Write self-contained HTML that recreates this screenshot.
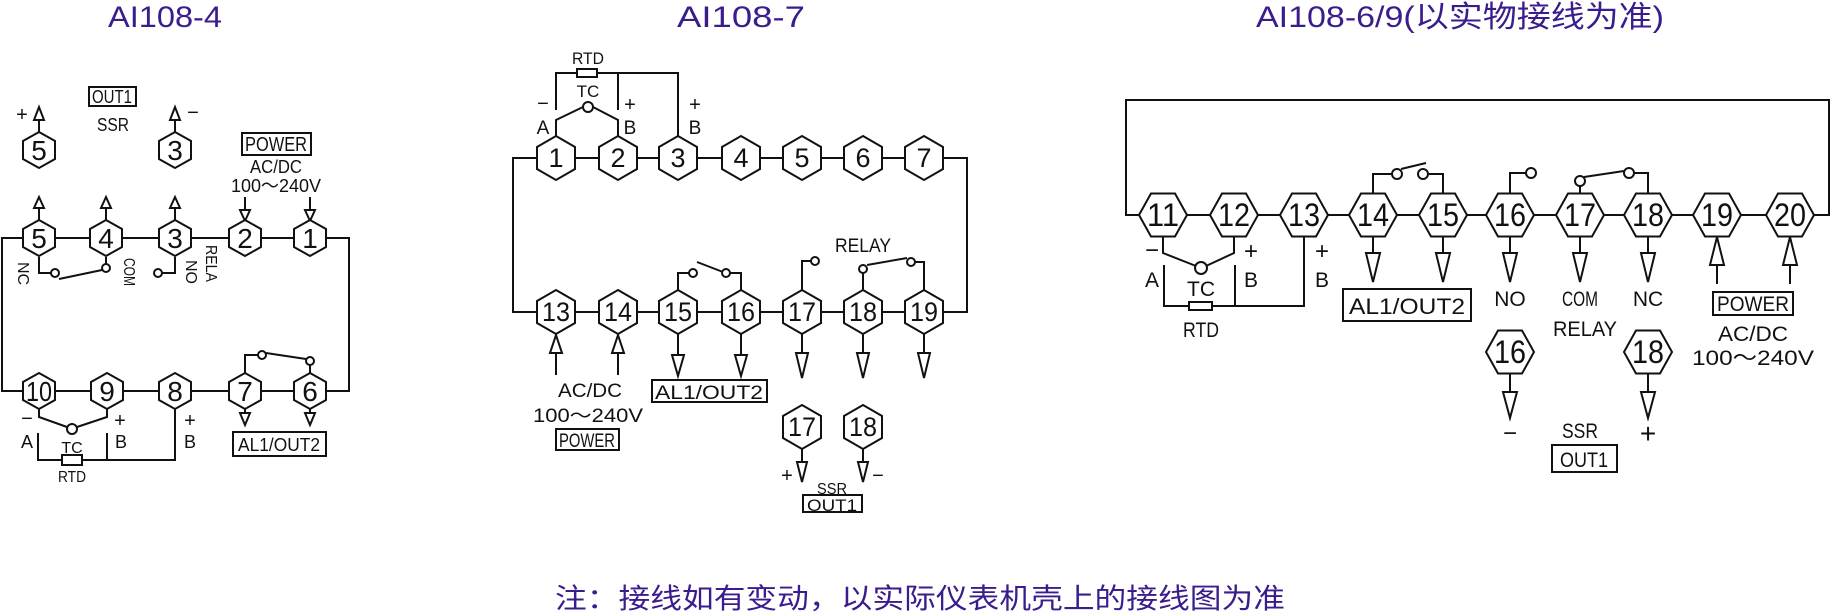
<!DOCTYPE html>
<html><head><meta charset="utf-8"><style>
html,body{margin:0;padding:0;background:#fff;}
svg{display:block;}
text{font-family:"Liberation Sans Narrow","Liberation Sans","Noto Sans CJK SC",sans-serif;fill:#111;}
.t{fill:#3b1c8c;font-family:"Liberation Sans","Noto Sans CJK SC",sans-serif;}
</style></head><body>
<svg width="1831" height="616" viewBox="0 0 1831 616" xmlns="http://www.w3.org/2000/svg">
<defs>
<polygon id="h1" points="0,-18 16,-9 16,9 0,18 -16,9 -16,-9" fill="#fff" stroke="#111" stroke-width="2"/>
<polygon id="h2" points="0,-22 19,-11 19,11 0,22 -19,11 -19,-11" fill="#fff" stroke="#111" stroke-width="2"/>
<polygon id="h3" points="-24,0 -12,-21.5 12,-21.5 24,0 12,21.5 -12,21.5" fill="#fff" stroke="#111" stroke-width="2"/>
</defs>

<text class="t" x="165" y="27" font-size="30" text-anchor="middle" textLength="114" lengthAdjust="spacingAndGlyphs">AI108-4</text>
<text class="t" x="741" y="27" font-size="30" text-anchor="middle" textLength="128" lengthAdjust="spacingAndGlyphs">AI108-7</text>
<text class="t" x="1460" y="27" font-size="30" text-anchor="middle" textLength="408" lengthAdjust="spacingAndGlyphs">AI108-6/9(以实物接线为准)</text>
<text class="t" x="920" y="608" font-size="28" text-anchor="middle" textLength="730" lengthAdjust="spacingAndGlyphs">注：接线如有变动，以实际仪表机壳上的接线图为准</text>

<g fill="none" stroke="#111" stroke-width="2">
<rect x="2" y="238" width="347" height="153"/>
<path d="M39,221V208M106,221V208M175,221V208"/>
<path d="M39,134V120M175,134V120"/>
<path d="M245,197V210M310,197V210"/>
<path d="M39,257V273H51M106,257V264M175,257V273H162M59,279L102,270"/>
<path d="M39,409V417L67,427M77,427L107,417V409M38,433V460H175V409M107,433V460"/>
<path d="M245,373V355H258M266,353L306,359M310,365V373"/>
<path d="M245,409V413M310,409V413"/>
<rect x="513" y="158" width="454" height="154"/>
<path d="M556,110V73H678V136M618,73V110M556,136V120L583,107M593,107L618,120V136"/>
<path d="M556,353V375M618,353V375"/>
<path d="M678,334V355M741,334V355M802,334V353M863,334V353M924,334V353"/>
<path d="M678,290V273H689M697,262L723,272M730,273H741V290"/>
<path d="M802,290V261H811"/>
<path d="M863,290V273M867,265L907,258M915,262H924V290"/>
<path d="M802,449V462M863,449V462"/>
<path d="M1139,215H1126V100H1829V215H1814"/>
<line x1="1139" y1="215" x2="1814" y2="215"/>
<path d="M1163,236V253L1196,266M1206,266L1234,253V236M1164,265V306H1304V236M1235,265V306"/>
<path d="M1373,236V253M1443,236V253M1510,236V253M1580,236V253M1648,236V253"/>
<path d="M1717,265V284M1790,265V284"/>
<path d="M1373,193V174H1392M1401,169L1426,163M1428,174H1443V193"/>
<path d="M1510,193V173H1526"/>
<path d="M1580,193V186M1584,177L1624,171M1634,173H1648V193"/>
<path d="M1510,374V392M1648,374V392"/>
</g>

<g fill="#fff" stroke="#111" stroke-width="2">
<circle cx="55" cy="273" r="4"/><circle cx="106" cy="268" r="4"/><circle cx="158" cy="273" r="4"/>
<circle cx="72" cy="429" r="5"/><circle cx="262" cy="355" r="4"/><circle cx="310" cy="361" r="4"/>
<rect x="62" y="455" width="20" height="10"/>
<circle cx="588" cy="107" r="5"/><rect x="577" y="69" width="20" height="8"/>
<circle cx="693" cy="273" r="4"/><circle cx="726" cy="273" r="4"/><circle cx="815" cy="261" r="4"/>
<circle cx="863" cy="269" r="4"/><circle cx="911" cy="262" r="4"/>
<circle cx="1201" cy="268" r="6"/><rect x="1189" y="302" width="23" height="8"/>
<circle cx="1397" cy="174" r="5"/><circle cx="1423" cy="174" r="5"/><circle cx="1531" cy="173" r="5"/>
<circle cx="1580" cy="181" r="5"/><circle cx="1629" cy="173" r="5"/>
<polygon points="34,208 44,208 39,197"/><polygon points="101,208 111,208 106,197"/><polygon points="170,208 180,208 175,197"/>
<polygon points="34,120 44,120 39,107"/><polygon points="170,120 180,120 175,107"/>
<polygon points="240,210 250,210 245,221"/><polygon points="305,210 315,210 310,221"/>
<polygon points="240,413 250,413 245,425"/><polygon points="305,413 315,413 310,425"/>
<polygon points="550,353 562,353 556,335"/><polygon points="612,353 624,353 618,335"/>
<polygon points="672,355 684,355 678,376"/><polygon points="735,355 747,355 741,376"/>
<polygon points="796,353 808,353 802,378"/><polygon points="857,353 869,353 863,378"/><polygon points="918,353 930,353 924,378"/>
<polygon points="797,462 807,462 802,482"/><polygon points="858,462 868,462 863,482"/>
<polygon points="1366,253 1380,253 1373,282"/><polygon points="1436,253 1450,253 1443,282"/>
<polygon points="1503,253 1517,253 1510,282"/><polygon points="1573,253 1587,253 1580,282"/><polygon points="1641,253 1655,253 1648,282"/>
<polygon points="1710,265 1724,265 1717,237"/><polygon points="1783,265 1797,265 1790,237"/>
<polygon points="1503,392 1517,392 1510,418"/><polygon points="1641,392 1655,392 1648,418"/>
<rect x="89" y="87" width="47" height="19"/>
<rect x="242" y="133" width="69" height="22"/>
<rect x="233" y="432" width="93" height="24"/>
<rect x="556" y="429" width="63" height="21"/>
<rect x="652" y="380" width="115" height="22"/>
<rect x="803" y="495" width="59" height="17"/>
<rect x="1343" y="289" width="128" height="32"/>
<rect x="1713" y="292" width="80" height="23"/>
<rect x="1552" y="445" width="65" height="27"/>
</g>

<g font-size="28" text-anchor="middle">
<use href="#h1" x="39" y="150"/><text x="39" y="160">5</text>
<use href="#h1" x="175" y="150"/><text x="175" y="160">3</text>
<use href="#h1" x="39" y="238"/><text x="39" y="248">5</text>
<use href="#h1" x="106" y="238"/><text x="106" y="248">4</text>
<use href="#h1" x="175" y="238"/><text x="175" y="248">3</text>
<use href="#h1" x="245" y="238"/><text x="245" y="248">2</text>
<use href="#h1" x="310" y="238"/><text x="310" y="248">1</text>
<use href="#h1" x="39" y="391"/><text x="39" y="401" textLength="26" lengthAdjust="spacingAndGlyphs">10</text>
<use href="#h1" x="107" y="391"/><text x="107" y="401">9</text>
<use href="#h1" x="175" y="391"/><text x="175" y="401">8</text>
<use href="#h1" x="245" y="391"/><text x="245" y="401">7</text>
<use href="#h1" x="310" y="391"/><text x="310" y="401">6</text>
</g>
<g font-size="27" text-anchor="middle">
<use href="#h2" x="556" y="158"/><text x="556" y="167">1</text>
<use href="#h2" x="618" y="158"/><text x="618" y="167">2</text>
<use href="#h2" x="678" y="158"/><text x="678" y="167">3</text>
<use href="#h2" x="741" y="158"/><text x="741" y="167">4</text>
<use href="#h2" x="802" y="158"/><text x="802" y="167">5</text>
<use href="#h2" x="863" y="158"/><text x="863" y="167">6</text>
<use href="#h2" x="924" y="158"/><text x="924" y="167">7</text>
<use href="#h2" x="556" y="312"/><text x="556" y="321" textLength="28" lengthAdjust="spacingAndGlyphs">13</text>
<use href="#h2" x="618" y="312"/><text x="618" y="321" textLength="28" lengthAdjust="spacingAndGlyphs">14</text>
<use href="#h2" x="678" y="312"/><text x="678" y="321" textLength="28" lengthAdjust="spacingAndGlyphs">15</text>
<use href="#h2" x="741" y="312"/><text x="741" y="321" textLength="28" lengthAdjust="spacingAndGlyphs">16</text>
<use href="#h2" x="802" y="312"/><text x="802" y="321" textLength="28" lengthAdjust="spacingAndGlyphs">17</text>
<use href="#h2" x="863" y="312"/><text x="863" y="321" textLength="28" lengthAdjust="spacingAndGlyphs">18</text>
<use href="#h2" x="924" y="312"/><text x="924" y="321" textLength="28" lengthAdjust="spacingAndGlyphs">19</text>
<use href="#h2" x="802" y="427"/><text x="802" y="436" textLength="28" lengthAdjust="spacingAndGlyphs">17</text>
<use href="#h2" x="863" y="427"/><text x="863" y="436" textLength="28" lengthAdjust="spacingAndGlyphs">18</text>
</g>
<g font-size="32" text-anchor="middle">
<use href="#h3" x="1163" y="215"/><text x="1163" y="226" textLength="32" lengthAdjust="spacingAndGlyphs">11</text>
<use href="#h3" x="1234" y="215"/><text x="1234" y="226" textLength="32" lengthAdjust="spacingAndGlyphs">12</text>
<use href="#h3" x="1304" y="215"/><text x="1304" y="226" textLength="32" lengthAdjust="spacingAndGlyphs">13</text>
<use href="#h3" x="1373" y="215"/><text x="1373" y="226" textLength="32" lengthAdjust="spacingAndGlyphs">14</text>
<use href="#h3" x="1443" y="215"/><text x="1443" y="226" textLength="32" lengthAdjust="spacingAndGlyphs">15</text>
<use href="#h3" x="1510" y="215"/><text x="1510" y="226" textLength="32" lengthAdjust="spacingAndGlyphs">16</text>
<use href="#h3" x="1580" y="215"/><text x="1580" y="226" textLength="32" lengthAdjust="spacingAndGlyphs">17</text>
<use href="#h3" x="1648" y="215"/><text x="1648" y="226" textLength="32" lengthAdjust="spacingAndGlyphs">18</text>
<use href="#h3" x="1717" y="215"/><text x="1717" y="226" textLength="32" lengthAdjust="spacingAndGlyphs">19</text>
<use href="#h3" x="1790" y="215"/><text x="1790" y="226" textLength="32" lengthAdjust="spacingAndGlyphs">20</text>
<use href="#h3" x="1510" y="352"/><text x="1510" y="363" textLength="32" lengthAdjust="spacingAndGlyphs">16</text>
<use href="#h3" x="1648" y="352"/><text x="1648" y="363" textLength="32" lengthAdjust="spacingAndGlyphs">18</text>
</g>

<g font-size="18" text-anchor="middle">
<text x="112" y="103" textLength="40" lengthAdjust="spacingAndGlyphs">OUT1</text>
<text x="113" y="131" textLength="32" lengthAdjust="spacingAndGlyphs">SSR</text>
<text x="22" y="121" font-size="20">+</text>
<text x="193" y="119" font-size="20">−</text>
<text x="276" y="151" font-size="20" textLength="62" lengthAdjust="spacingAndGlyphs">POWER</text>
<text x="276" y="173" textLength="52" lengthAdjust="spacingAndGlyphs">AC/DC</text>
<text x="276" y="192" textLength="90" lengthAdjust="spacingAndGlyphs">100～240V</text>
<text x="27" y="425" font-size="20">−</text>
<text x="27" y="448">A</text>
<text x="72" y="453" font-size="16">TC</text>
<text x="72" y="482" font-size="16" textLength="28" lengthAdjust="spacingAndGlyphs">RTD</text>
<text x="120" y="427" font-size="20">+</text>
<text x="121" y="448">B</text>
<text x="190" y="427" font-size="20">+</text>
<text x="190" y="448">B</text>
<text x="279" y="451" textLength="82" lengthAdjust="spacingAndGlyphs">AL1/OUT2</text>
</g>
<g font-size="16">
<text transform="translate(18,262) rotate(90)">NC</text>
<text transform="translate(124,258) rotate(90)" textLength="28" lengthAdjust="spacingAndGlyphs">COM</text>
<text transform="translate(186,260) rotate(90)">NO</text>
<text transform="translate(206,245) rotate(90)" textLength="37" lengthAdjust="spacingAndGlyphs">RELA</text>
</g>
<g font-size="19" text-anchor="middle">
<text x="588" y="64" font-size="17" textLength="32" lengthAdjust="spacingAndGlyphs">RTD</text>
<text x="588" y="97" font-size="17">TC</text>
<text x="543" y="110" font-size="20">−</text>
<text x="630" y="111" font-size="20">+</text>
<text x="695" y="111" font-size="20">+</text>
<text x="543" y="134">A</text>
<text x="630" y="134">B</text>
<text x="695" y="134">B</text>
<text x="590" y="397" textLength="64" lengthAdjust="spacingAndGlyphs">AC/DC</text>
<text x="588" y="422" textLength="110" lengthAdjust="spacingAndGlyphs">100～240V</text>
<text x="587" y="447" textLength="56" lengthAdjust="spacingAndGlyphs">POWER</text>
<text x="709" y="399" textLength="108" lengthAdjust="spacingAndGlyphs">AL1/OUT2</text>
<text x="863" y="252" textLength="56" lengthAdjust="spacingAndGlyphs">RELAY</text>
<text x="787" y="482" font-size="20">+</text>
<text x="878" y="482" font-size="20">−</text>
<text x="832" y="494" font-size="16" textLength="30" lengthAdjust="spacingAndGlyphs">SSR</text>
<text x="832" y="511" font-size="17" textLength="50" lengthAdjust="spacingAndGlyphs">OUT1</text>
</g>
<g font-size="21" text-anchor="middle">
<text x="1152" y="258" font-size="24">−</text>
<text x="1152" y="287">A</text>
<text x="1201" y="296">TC</text>
<text x="1201" y="337" textLength="36" lengthAdjust="spacingAndGlyphs">RTD</text>
<text x="1251" y="259" font-size="24">+</text>
<text x="1251" y="287">B</text>
<text x="1322" y="259" font-size="24">+</text>
<text x="1322" y="287">B</text>
<text x="1407" y="314" font-size="22" textLength="116" lengthAdjust="spacingAndGlyphs">AL1/OUT2</text>
<text x="1510" y="306">NO</text>
<text x="1580" y="306" textLength="36" lengthAdjust="spacingAndGlyphs">COM</text>
<text x="1648" y="306">NC</text>
<text x="1585" y="336" textLength="64" lengthAdjust="spacingAndGlyphs">RELAY</text>
<text x="1753" y="311" textLength="72" lengthAdjust="spacingAndGlyphs">POWER</text>
<text x="1753" y="341" textLength="70" lengthAdjust="spacingAndGlyphs">AC/DC</text>
<text x="1753" y="365" textLength="122" lengthAdjust="spacingAndGlyphs">100～240V</text>
<text x="1510" y="441" font-size="24">−</text>
<text x="1648" y="443" font-size="28">+</text>
<text x="1580" y="438" textLength="36" lengthAdjust="spacingAndGlyphs">SSR</text>
<text x="1584" y="467" textLength="48" lengthAdjust="spacingAndGlyphs">OUT1</text>
</g>
</svg>
</body></html>
